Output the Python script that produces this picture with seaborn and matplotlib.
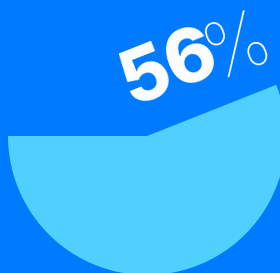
import numpy as np
import matplotlib
matplotlib.use("Agg")
import matplotlib.pyplot as plt
import seaborn as sns

# data
labels = ["share", "rest"]
values = [56, 44]
share_text = "56"
unit_text = "%"

bg_color = "#007AFF"
wedge_color = "#50D0FF"

sns.set_theme(style="white")
plt.rcParams['font.family'] = ['Inter', 'DejaVu Sans']

W, H = 280, 273
fig = plt.figure(figsize=(W / 100, H / 100), dpi=100)
fig.patch.set_facecolor(bg_color)
ax = fig.add_axes([0, 0, 1, 1])
ax.set_facecolor(bg_color)

# pie centre and radius in pixels (from top-left)
cx, cy, r = 147, 136, 139

wedges, _ = ax.pie(values, colors=[wedge_color, "none"], startangle=180,
                   counterclock=True, radius=1, center=(0, 0),
                   wedgeprops=dict(linewidth=0))

ax.set_xlim(-cx / r, (W - cx) / r)
ax.set_ylim(-(H - cy) / r, cy / r)
ax.set_aspect("auto")
ax.axis("off")

angle = values[0] / 100 * 360 - 180


def px(x, y):
    return (x - cx) / r, (cy - y) / r


tx, ty = px(131, 107)
ax.text(tx, ty, share_text, color="white", fontsize=54, fontweight="heavy",
        rotation=angle, rotation_mode="anchor", ha="left", va="baseline")
ux, uy = px(215, 79)
ax.text(ux, uy, unit_text, color="white", fontsize=56, fontweight="ultralight",
        rotation=angle, rotation_mode="anchor", ha="left", va="baseline")

fig.savefig("out.png", dpi=100, facecolor=bg_color)
